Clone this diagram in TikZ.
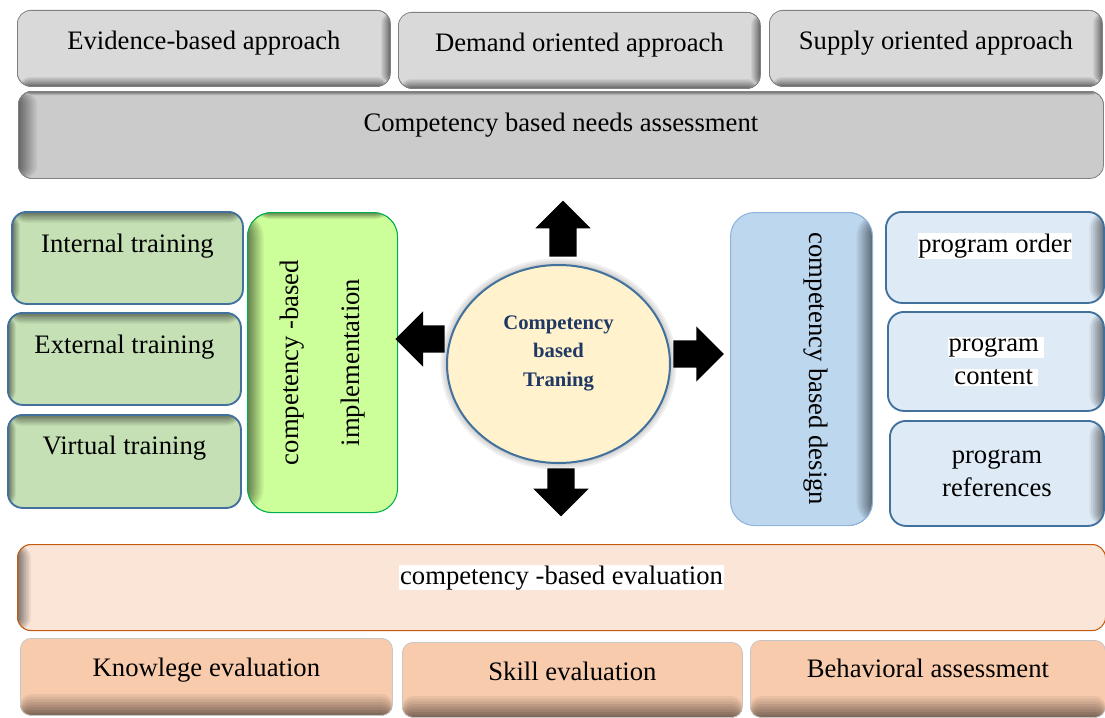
\documentclass[tikz,border=0pt]{standalone}
\usepackage{fontspec}
\setmainfont{Liberation Serif}
\usepackage{graphicx}
\usetikzlibrary{shapes.geometric,shapes.arrows}

\definecolor{boxgray}{HTML}{D9D9D9}
\definecolor{needgray}{HTML}{CBCBCB}
\definecolor{traingreen}{HTML}{C5E0B4}
\definecolor{implgreen}{HTML}{CCFF99}
\definecolor{implline}{HTML}{00B050}
\definecolor{steelline}{HTML}{41719C}
\definecolor{circfill}{HTML}{FFF2CC}
\definecolor{circtext}{HTML}{1F3864}
\definecolor{designblue}{HTML}{BDD7EE}
\definecolor{designline}{HTML}{8FB4DE}
\definecolor{progblue}{HTML}{DEEBF7}
\definecolor{evalfill}{HTML}{FBE5D6}
\definecolor{evalline}{HTML}{C55A11}
\definecolor{peach}{HTML}{F8CBAD}

% dark rims inside the boxes: {fill colour}{width}, drawn as strips
\newcommand{\rimE}[2]{\foreach \k [evaluate=\k as \pc using int(100-6*\k)] in {1,...,8}
  {\fill[#1!\pc!black] ([xshift=-#2*(9-\k)/8]path picture bounding box.north east) rectangle (path picture bounding box.south east);}}
\newcommand{\rimW}[2]{\foreach \k [evaluate=\k as \pc using int(100-6*\k)] in {1,...,8}
  {\fill[#1!\pc!black] (path picture bounding box.north west) rectangle ([xshift=#2*(9-\k)/8]path picture bounding box.south west);}}
\newcommand{\rimN}[2]{\foreach \k [evaluate=\k as \pc using int(100-6*\k)] in {1,...,8}
  {\fill[#1!\pc!black] (path picture bounding box.north west) rectangle ([yshift=-#2*(9-\k)/8]path picture bounding box.north east);}}
\newcommand{\rimS}[2]{\foreach \k [evaluate=\k as \pc using int(100-6*\k)] in {1,...,8}
  {\fill[#1!\pc!black] ([yshift=#2*(9-\k)/8]path picture bounding box.south west) rectangle (path picture bounding box.south east);}}
\newcommand{\whitebg}[1]{{\setlength{\fboxsep}{0.5pt}\colorbox{white}{#1}}}

\tikzset{
  cbox/.style={draw, anchor=north west, inner sep=0pt, align=center,
    font=\fontsize{20}{25}\selectfont},
  textpos/.style 2 args={text height=#1, text depth=#2},
  graybox/.style={cbox, fill=boxgray, draw=gray, line width=0.6pt, rounded corners=10pt},
  trainbox/.style={cbox, fill=traingreen, draw=steelline, line width=1.4pt, rounded corners=11pt},
  progbox/.style={cbox, fill=progblue, draw=steelline, line width=1.4pt, rounded corners=12pt},
  peachbox/.style={cbox, fill=peach, draw=gray!45, line width=0.6pt, rounded corners=8pt},
  barrow/.style={single arrow, fill=black, draw=none, inner xsep=0pt, inner ysep=10pt,
    single arrow head extend=10.5pt, anchor=tail},
}

\begin{document}
\begin{tikzpicture}[x=0.75pt,y=-0.75pt]
\useasboundingbox (0,0) rectangle (1105,717);

% needs assessment
\node[graybox, minimum width=279.75pt, minimum height=57pt, textpos={29pt}{28pt},
  path picture={\rimE{boxgray}{7pt}\rimS{boxgray}{7pt}}] (evid) at (17,10) {Evidence-based approach};
\node[graybox, minimum width=271.5pt, minimum height=57pt, textpos={29pt}{28pt},
  path picture={\rimE{boxgray}{7pt}\rimS{boxgray}{7pt}}] (demand) at (398,12) {Demand oriented approach};
\node[graybox, minimum width=249.75pt, minimum height=57pt, textpos={29pt}{28pt},
  path picture={\rimE{boxgray}{7pt}\rimS{boxgray}{7pt}}] (supply) at (769,10) {Supply oriented approach};
\node[graybox, fill=needgray, minimum width=813.75pt, minimum height=65.25pt, textpos={30.4pt}{34.85pt},
  path picture={\rimW{needgray}{14pt}\rimN{needgray}{3pt}}] (needs) at (18,91) {Competency based needs assessment};

% implementation
\node[trainbox, minimum width=173.25pt, minimum height=69pt, textpos={30.4pt}{38.6pt},
  path picture={\rimN{traingreen}{8pt}\rimW{traingreen}{6pt}}] (internal) at (11,211) {Internal training};
\node[trainbox, minimum width=174.75pt, minimum height=69pt, textpos={30.4pt}{38.6pt},
  path picture={\rimN{traingreen}{8pt}\rimW{traingreen}{6pt}}] (external) at (7,312) {External training};
\node[trainbox, minimum width=174.75pt, minimum height=69.75pt, textpos={29.6pt}{40.15pt},
  path picture={\rimN{traingreen}{8pt}\rimW{traingreen}{6pt}}] (virtual) at (7,414) {Virtual training};
\node[cbox, fill=implgreen, draw=implline, line width=0.8pt, rounded corners=18pt,
  minimum width=112.5pt, minimum height=225pt,
  path picture={\rimW{implgreen}{12pt}\rimN{implgreen}{5pt}}] (impl) at (247,212)
  {\rotatebox{90}{\begin{tabular}{@{}c@{}}competency -based\\[21pt]implementation\end{tabular}}};

% centre, with a soft glow
\foreach \g in {5,3.5,2,1}
  \fill[black, opacity=.06] (558.5,364) ellipse ({83.6pt+\g pt} and {74.25pt+\g pt});
\node[ellipse, draw=steelline, line width=1.5pt, fill=circfill,
  minimum width=167.25pt, minimum height=148.5pt, inner sep=0pt] (cbt) at (558.5,364) {};
\node[font=\fontsize{15.5}{21.4}\selectfont\bfseries, text=circtext, align=center]
  (cbtlabel) at ([yshift=8pt]cbt.center) {Competency\\based\\Traning};

\node[barrow, rotate=90, minimum height=42pt] (arrup) at ([shift={(4.5,-7)}]cbt.north) {};
\node[barrow, rotate=180, minimum height=37pt] (arrleft) at ([shift={(-1,-25)}]cbt.west) {};
\node[barrow, minimum height=38pt] (arrright) at ([shift={(2,-10)}]cbt.east) {};
\node[barrow, rotate=-90, minimum height=36pt] (arrdown) at ([shift={(2.5,4)}]cbt.south) {};

% design
\node[cbox, fill=designblue, draw=designline, line width=0.8pt, rounded corners=18pt,
  minimum width=106.5pt, minimum height=234.75pt,
  path picture={\rimE{designblue}{12pt}}] (design) at (730,212)
  {\hspace*{21pt}\rotatebox{-90}{competency based design}};
\node[progbox, minimum width=163.5pt, minimum height=68.25pt, textpos={30.4pt}{37.85pt},
  path picture={\rimE{progblue}{11pt}}] (porder) at (885,211) {\whitebg{program order}};
\node[progbox, minimum width=162pt, minimum height=74.25pt,
  path picture={\rimE{progblue}{11pt}}] (pcontent) at (887,311) {\whitebg{program\,}\\\whitebg{content\,}};
\node[progbox, minimum width=160.5pt, minimum height=78.75pt,
  path picture={\rimE{progblue}{11pt}}] (prefs) at (889,420) {program\\references};

% evaluation
\node[cbox, fill=evalfill, draw=evalline, line width=0.8pt, rounded corners=10pt,
  minimum width=816pt, minimum height=64.5pt, textpos={29.6pt}{34.9pt},
  path picture={\rimW{evalfill}{10pt}}] (evaluation) at (17,544) {\whitebg{competency -based evaluation}};
\node[peachbox, minimum width=279pt, minimum height=57.75pt, textpos={28.9pt}{28.85pt},
  path picture={\rimS{peach}{16pt}}] (knowledge) at (20,638) {Knowlege evaluation};
\node[peachbox, minimum width=255pt, minimum height=56.25pt, textpos={28.9pt}{27.35pt},
  path picture={\rimS{peach}{16pt}}] (skill) at (402,642) {Skill evaluation};
\node[peachbox, minimum width=266.25pt, minimum height=57.75pt, textpos={28.1pt}{29.65pt},
  path picture={\rimS{peach}{16pt}}] (behav) at (750,640) {Behavioral assessment};

\end{tikzpicture}
\end{document}
